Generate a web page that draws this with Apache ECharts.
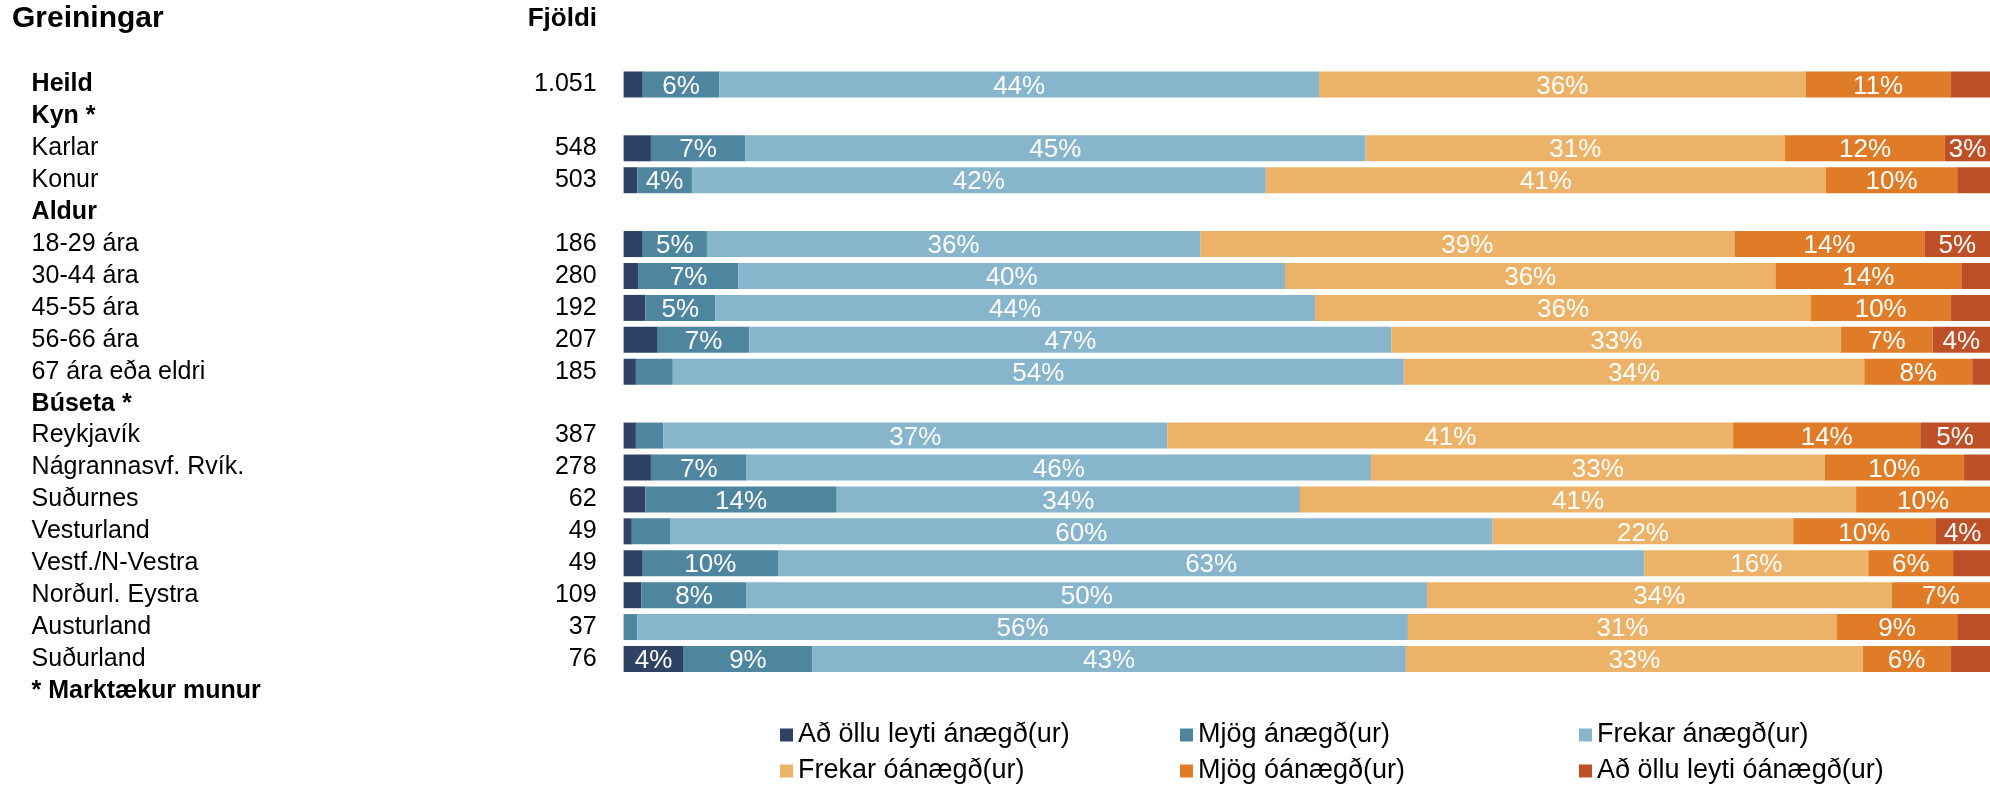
<!DOCTYPE html>
<html>
<head>
<meta charset="utf-8">
<script src="https://cdn.jsdelivr.net/npm/echarts@6/dist/echarts.min.js"></script>
<style>
  html, body { margin: 0; padding: 0; background: #fff; }
  #chartMain { width: 1990px; height: 785px; }
</style>
</head>
<body>
<div id="chartMain"></div>
<script>
// flokkar (ein lína á hverja röð)
var categories = ['Heild', 'Kyn *', 'Karlar', 'Konur', 'Aldur', '18-29 ára', '30-44 ára', '45-55 ára', '56-66 ára', '67 ára eða eldri',
  'Búseta *', 'Reykjavík', 'Nágrannasvf. Rvík.', 'Suðurnes', 'Vesturland', 'Vestf./N-Vestra', 'Norðurl. Eystra', 'Austurland', 'Suðurland',
  '* Marktækur munur'];
var headings = ['Heild', 'Kyn *', 'Aldur', 'Búseta *', '* Marktækur munur'];
var counts = [1051, null, 548, 503, null, 186, 280, 192, 207, 185, null, 387, 278, 62, 49, 49, 109, 37, 76, null];

var seriesNames = ['Að öllu leyti ánægð(ur)', 'Mjög ánægð(ur)', 'Frekar ánægð(ur)',
  'Frekar óánægð(ur)', 'Mjög óánægð(ur)', 'Að öllu leyti óánægð(ur)'];
var colors = ['#2f4263', '#4f869f', '#87b5cb', '#ebb268', '#e07c27', '#be5027'];

// hlutfall (%) - null = fyrirsagnarlína
var aoAnaegd     = [1.4, null, 2.0, 1.0, null, 1.4, 1.1, 1.6, 2.5, 0.9, null, 0.9, 2.0, 1.6, 0.6, 1.4, 1.3, 0, 4.4, null];
var mjogAnaegd   = [5.6, null, 6.9, 4.0, null, 4.7, 7.3, 5.1, 6.7, 2.7, null, 2.0, 7.0, 14.0, 2.8, 9.9, 7.7, 1.0, 9.4, null];
var frekarAnaegd = [43.9, null, 45.4, 42.0, null, 36.1, 40.0, 43.9, 47.0, 53.5, null, 36.9, 45.7, 33.9, 60.2, 63.4, 49.8, 56.4, 43.45, null];
var frekarOanaegd= [35.6, null, 30.7, 41.0, null, 39.1, 35.9, 36.3, 32.9, 33.7, null, 41.4, 33.2, 40.7, 22.0, 16.4, 34.0, 31.4, 33.45, null];
var mjogOanaegd  = [10.6, null, 11.7, 9.6, null, 13.9, 13.6, 10.2, 6.7, 7.9, null, 13.7, 10.2, 9.8, 10.4, 6.2, 7.2, 8.8, 6.4, null];
var aoOanaegd    = [2.9, null, 3.3, 2.4, null, 4.8, 2.1, 2.9, 4.2, 1.3, null, 5.1, 1.9, 0, 4.0, 2.7, 0, 2.4, 2.9, null];

var seriesData = [aoAnaegd, mjogAnaegd, frekarAnaegd, frekarOanaegd, mjogOanaegd, aoOanaegd];

var FONT = '"Liberation Sans", Arial, sans-serif';

function fmtCount(n) {
  if (n == null) return '';
  return String(n).replace(/\B(?=(\d{3})+(?!\d))/g, '.');
}

var chart = echarts.init(document.getElementById('chartMain'));

var legendLeft = [780, 1180, 1579];
var legendTop = [720, 756];

var option = {
  animation: false,
  backgroundColor: '#fff',
  color: colors,
  textStyle: { fontFamily: FONT },
  graphic: [
    { type: 'text', x: 12, y: 19, style: { text: 'Greiningar', font: 'bold 30px ' + FONT, fill: '#000', textVerticalAlign: 'middle' } },
    { type: 'text', x: 597, y: 19, style: { text: 'Fjöldi', font: 'bold 26px ' + FONT, fill: '#000', textAlign: 'right', textVerticalAlign: 'middle' } }
  ],
  legend: seriesNames.map(function (name, i) {
    return {
      data: [name],
      left: legendLeft[i % 3],
      top: legendTop[Math.floor(i / 3)],
      icon: 'rect',
      itemWidth: 13,
      itemHeight: 13,
      padding: 0,
      selectedMode: false,
      textStyle: { fontSize: 27, color: '#000', fontFamily: FONT, lineHeight: 30 }
    };
  }),
  grid: { left: 623.6, right: 0, top: 68.5, height: 638.4 },
  xAxis: { type: 'value', min: 0, max: 100, show: false },
  yAxis: {
    type: 'category',
    data: categories,
    inverse: true,
    axisLine: { show: false },
    axisTick: { show: false },
    splitLine: { show: false },
    axisLabel: {
      align: 'left',
      margin: 592,
      interval: 0,
      formatter: function (value, idx) {
        var st = headings.indexOf(value) >= 0 ? 'b' : 'n';
        return '{' + st + '|' + value + '}{c|' + fmtCount(counts[idx]) + '}';
      },
      rich: {
        n: { width: 500, align: 'left', fontSize: 25, color: '#000', fontFamily: FONT },
        b: { width: 500, align: 'left', fontSize: 25, fontWeight: 'bold', color: '#000', fontFamily: FONT },
        c: { width: 65, align: 'right', fontSize: 25, color: '#000', fontFamily: FONT }
      }
    }
  },
  series: seriesNames.map(function (name, i) {
    return {
      name: name,
      type: 'bar',
      stack: 'total',
      barWidth: 26,
      data: seriesData[i],
      itemStyle: { color: colors[i] },
      label: {
        show: true,
        position: 'inside',
        offset: [0, 2],
        color: '#fff',
        fontSize: 26,
        fontFamily: FONT,
        formatter: function (p) {
          return p.value >= 3 ? Math.round(p.value) + '%' : '';
        }
      }
    };
  })
};

chart.setOption(option);
</script>
</body>
</html>
